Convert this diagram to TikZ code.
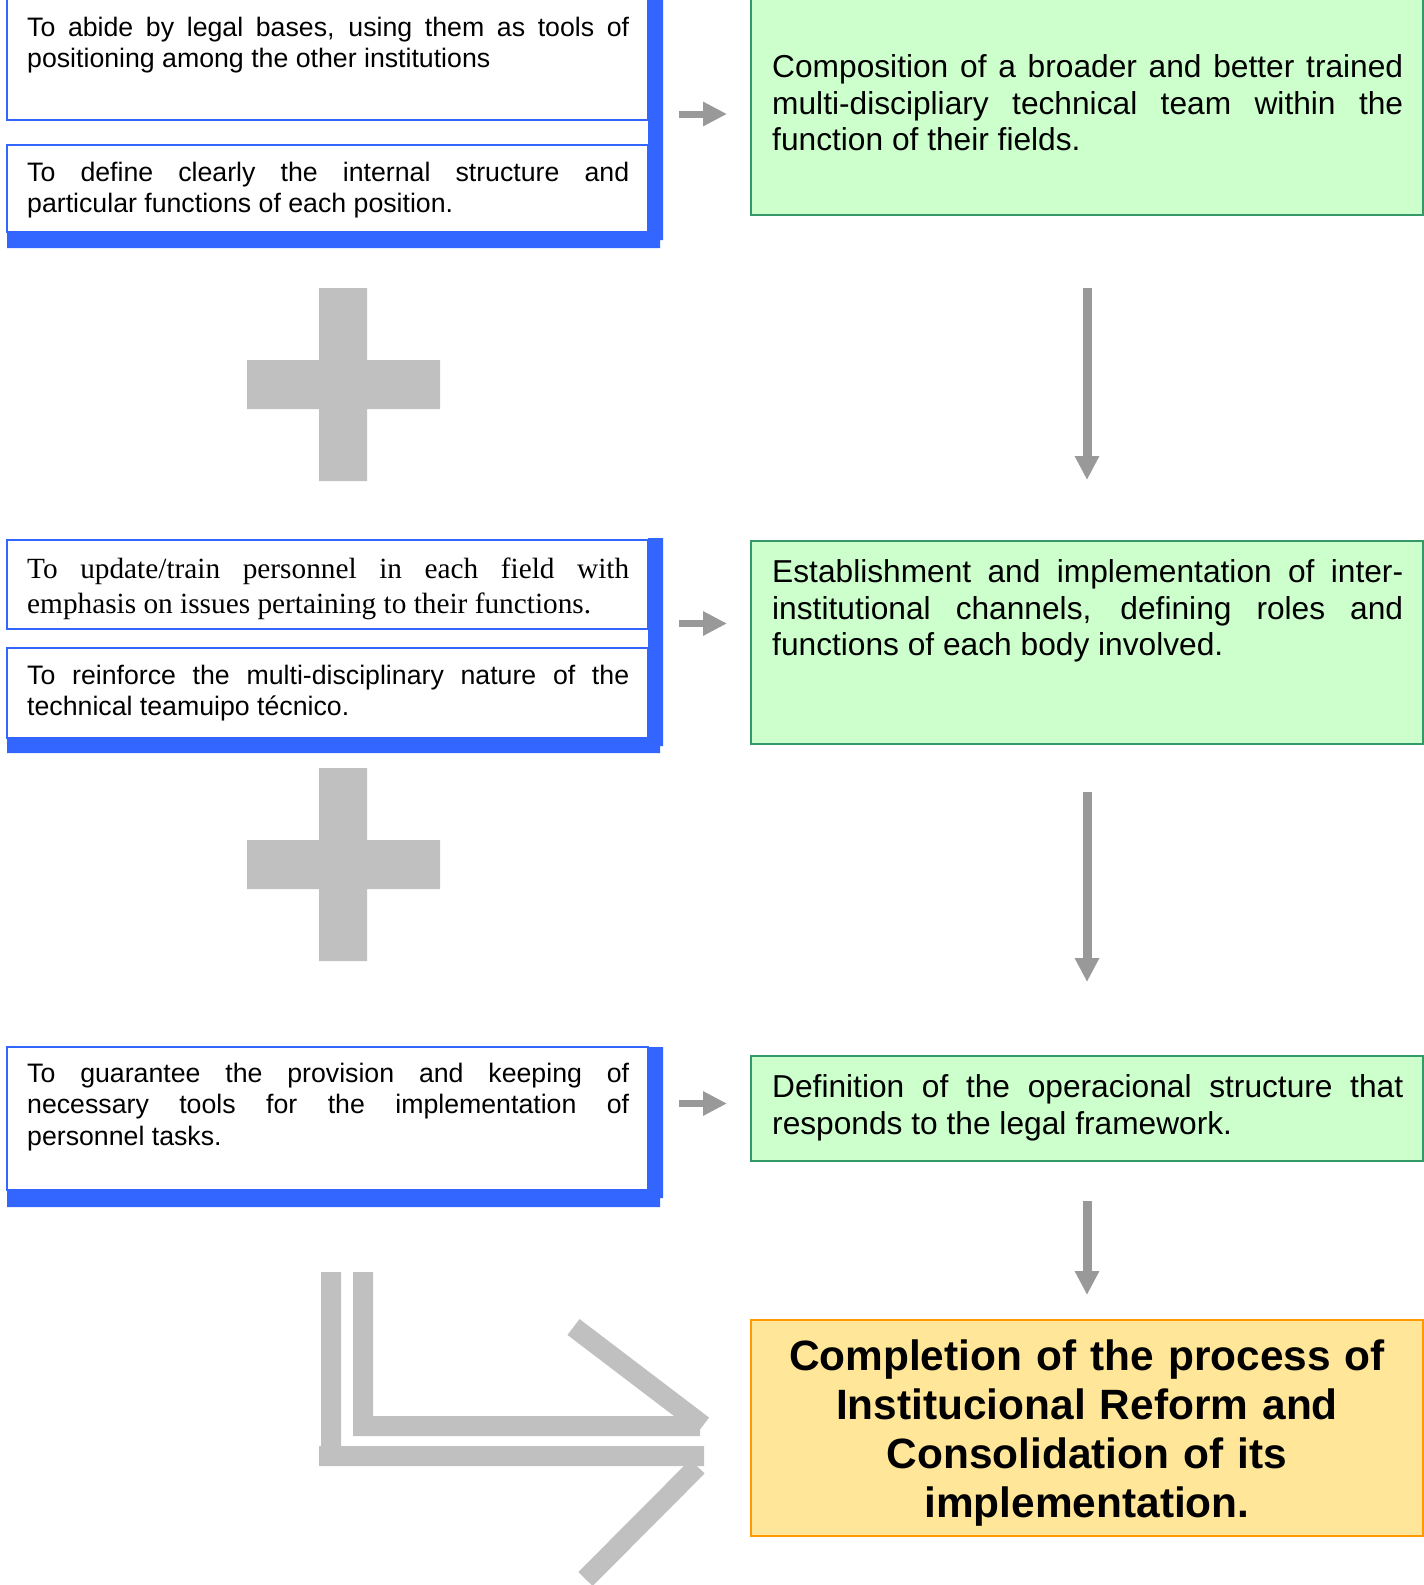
\documentclass[tikz,border=0pt]{standalone}
\usepackage{fontspec}
\setmainfont{Liberation Sans}
\newfontfamily\serifface{Liberation Serif}
\usetikzlibrary{arrows.meta}
\definecolor{barblue}{HTML}{3366FF}
\definecolor{boxgreen}{HTML}{CCFFCC}
\definecolor{linegreen}{HTML}{339966}
\definecolor{goalfill}{HTML}{FFE699}
\definecolor{goalline}{HTML}{FF9900}
\definecolor{arrowgray}{HTML}{999999}
\definecolor{plusgray}{HTML}{C0C0C0}
\hyphenpenalty=10000
\tolerance=9999
\hbadness=10000

\begin{document}
\begin{tikzpicture}[x=1pt, y=-1pt,
    task/.style = {draw=barblue, line width=2pt, fill=white, outer sep=0pt, anchor=north west, minimum width=641pt},
    tasktext/.style = {anchor=north west, inner sep=0pt, text width=602pt, align=justify, font=\fontsize{26.7}{31.3}\selectfont},
    result/.style = {draw=linegreen, line width=2pt, fill=boxgreen, outer sep=0pt, anchor=north west, minimum width=672pt},
    resulttext/.style = {anchor=north west, inner sep=0pt, text width=631pt, align=justify, font=\fontsize{31.7}{36.9}\selectfont},
    hflow/.style = {arrowgray, line width=7pt, -{Triangle[length=24pt, width=23pt]}},
    vflow/.style = {arrowgray, line width=9pt, -{Triangle[length=24pt, width=23pt]}}]
    \useasboundingbox (0,0) rectangle (1424,1585);

    \fill[barblue] (648,-5) rectangle (663,240) (7,232) rectangle (660,248);
    \fill[barblue] (648,538) rectangle (663,746) (7,738) rectangle (660,753);
    \fill[barblue] (648,1047) rectangle (663,1198) (7,1190) rectangle (660,1207);

    \node[task, minimum height=125pt] (a1) at (7,-5) {};
    \node[task, minimum height=87pt] (a2) at (7,145) {};
    \node[task, minimum height=89pt] (b1) at (7,540) {};
    \node[task, minimum height=90pt] (b2) at (7,648) {};
    \node[task, minimum height=143pt] (c1) at (7,1047) {};

    \node[tasktext] (a1t) at ([shift={(20pt,-22pt)}]a1.north west) {To abide by legal bases, using them as tools of positioning among the other institutions};
    \node[tasktext] (a2t) at ([shift={(20pt,-17pt)}]a2.north west) {To define clearly the internal structure and\linebreak particular functions of each position.};
    \node[tasktext, font=\serifface\fontsize{29.3}{34.4}\selectfont] (b1t) at ([shift={(20pt,-18pt)}]b1.north west) {To update/train personnel in each field with emphasis on issues pertaining to their functions.};
    \node[tasktext] (b2t) at ([shift={(20pt,-17pt)}]b2.north west) {To reinforce the multi-disciplinary nature of the technical teamuipo técnico.};
    \node[tasktext] (c1t) at ([shift={(20pt,-16pt)}]c1.north west) {To guarantee the provision and keeping of necessary tools for the implementation of\linebreak personnel tasks.};

    \node[result, minimum height=220pt] (g1) at (751,-5) {};
    \node[result, minimum height=203pt] (g2) at (751,541) {};
    \node[result, minimum height=105pt] (g3) at (751,1056) {};
    \node[draw=goalline, line width=2pt, fill=goalfill, outer sep=0pt, anchor=north west, minimum width=672pt, minimum height=216pt] (goal) at (751,1320) {};

    \node[resulttext] (g1t) at ([shift={(21pt,-59pt)}]g1.north west) {Composition of a broader and better trained multi-discipliary technical team within the function of their fields.};
    \node[resulttext] (g2t) at ([shift={(21pt,-18pt)}]g2.north west) {Establishment and implementation of inter-institutional channels, defining roles and functions of each body involved.};
    \node[resulttext] (g3t) at ([shift={(21pt,-18pt)}]g3.north west) {Definition of the operacional structure that responds to the legal framework.};
    \node[inner sep=0pt, text width=640pt, align=center, font=\bfseries\fontsize{42.4}{49}\selectfont] (goalt) at ([yshift=-5pt]goal.center)
          {Completion of the process of\\ Institucional Reform and\\ Consolidation of its\\ implementation.};

    \draw[hflow] ([shift={(-72pt,-9pt)}]g1.west) -- ([shift={(-24pt,-9pt)}]g1.west);
    \draw[hflow] ([shift={(-72pt,19pt)}]g2.west) -- ([shift={(-24pt,19pt)}]g2.west);
    \draw[hflow] ([shift={(-72pt,5pt)}]g3.west) -- ([shift={(-24pt,5pt)}]g3.west);

    \draw[vflow] ([yshift=-73pt]g1.south) -- ([yshift=61pt]g2.north);
    \draw[vflow] ([yshift=-48pt]g2.south) -- ([yshift=74pt]g3.north);
    \draw[vflow] ([yshift=-40pt]g3.south) -- ([yshift=25pt]goal.north);

    \fill[plusgray] (319,288) rectangle (367,481) (247,360) rectangle (440,409);
    \fill[plusgray] (319,768) rectangle (367,961) (247,840) rectangle (440,889);

    \fill[plusgray] (321,1272) rectangle (341,1466) (319,1446) rectangle (704,1466)
                    (353,1272) rectangle (373,1436) (353,1416) rectangle (700,1436);
    \draw[plusgray, line width=20pt] (573.5,1327) -- (703,1425.5) (697.5,1466.5) -- (585.5,1579);
\end{tikzpicture}
\end{document}
